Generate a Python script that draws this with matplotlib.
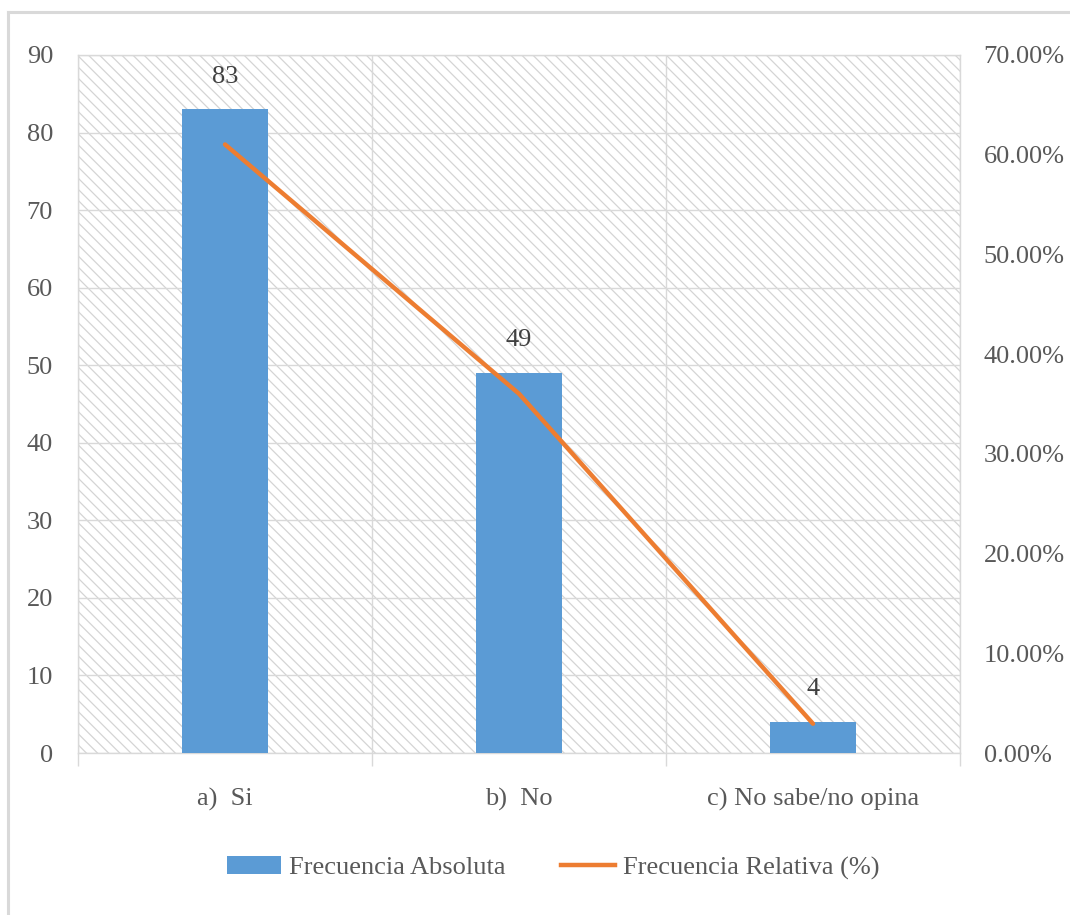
import matplotlib
matplotlib.use("Agg")
import matplotlib.pyplot as plt
from matplotlib.patches import Rectangle
from matplotlib.lines import Line2D
from matplotlib.ticker import FixedLocator, FuncFormatter

# Data
categories = ["a)  Si", "b)  No", "c) No sabe/no opina"]
frecuencia_absoluta = [83, 49, 4]
frecuencia_relativa = [61.03, 36.03, 2.94]  # percent
left_ticks = list(range(0, 100, 10))
right_ticks = [0, 10, 20, 30, 40, 50, 60, 70]

BAR_COLOR = "#5B9BD5"
LINE_COLOR = "#ED7D31"
GRID_COLOR = "#d9d9d9"
TEXT_COLOR = "#595959"
LABEL_COLOR = "#404040"

plt.rcParams["font.family"] = ["Liberation Serif", "DejaVu Serif"]
plt.rcParams["hatch.linewidth"] = 0.9
FS = 19

fig = plt.figure(figsize=(10.7, 9.15), dpi=100)
ax = fig.add_axes([0.0729, 0.177, 0.8243, 0.7629])

# Hatched plot-area background
bg = Rectangle((0, 0), 1, 1, transform=ax.transAxes, facecolor="white",
               edgecolor="#d4d4d4", hatch="\\\\\\", linewidth=0, zorder=0)
ax.add_patch(bg)

x = list(range(len(categories)))
bars = ax.bar(x, frecuencia_absoluta, width=0.29, color=BAR_COLOR, zorder=3)
for xi, v in zip(x, frecuencia_absoluta):
    ax.annotate(str(v), (xi, v), xytext=(0, 15.5), textcoords="offset points",
                ha="center", va="bottom", fontsize=FS, color=LABEL_COLOR, zorder=5)

ax.set_xlim(-0.5, len(categories) - 0.5)
ax.set_ylim(0, 90)
ax.set_yticks(left_ticks)
ax.set_xticks(x)
ax.set_xticklabels(categories)
ax.xaxis.set_minor_locator(FixedLocator([-0.5, 0.5, 1.5, 2.5]))
ax.tick_params(axis="x", which="major", length=0, pad=25, labelsize=FS, labelcolor=TEXT_COLOR)
ax.tick_params(axis="x", which="minor", length=9, color=GRID_COLOR, width=1)
ax.tick_params(axis="y", length=0, pad=18, labelsize=FS, labelcolor=TEXT_COLOR)

ax.set_axisbelow(True)
ax.grid(axis="y", color=GRID_COLOR, linewidth=1, zorder=1)
ax.grid(axis="x", which="minor", color=GRID_COLOR, linewidth=1, zorder=1)
for s in ax.spines.values():
    s.set_color(GRID_COLOR)
    s.set_linewidth(1)

# Secondary axis with relative frequency
ax2 = ax.twinx()
ax2.plot(x, frecuencia_relativa, color=LINE_COLOR, linewidth=3.2,
         solid_capstyle="round", zorder=4)
ax2.set_ylim(0, 70)
ax2.set_yticks(right_ticks)
ax2.yaxis.set_major_formatter(FuncFormatter(lambda v, p: f"{v:.2f}%"))
ax2.tick_params(axis="y", length=0, pad=17, labelsize=FS, labelcolor=TEXT_COLOR)
for s in ax2.spines.values():
    s.set_visible(False)

# Legend
handles = [Rectangle((0, 0), 1, 1, facecolor=BAR_COLOR, edgecolor="none"),
           Line2D([0], [0], color=LINE_COLOR, linewidth=3.2)]
leg = fig.legend(handles, ["Frecuencia Absoluta", "Frecuencia Relativa (%)"],
                 loc="center", bbox_to_anchor=(0.517, 0.0514), ncol=2,
                 frameon=False, fontsize=FS, handlelength=2.05,
                 handleheight=0.65, handletextpad=0.3, columnspacing=2.1)
for t in leg.get_texts():
    t.set_color(TEXT_COLOR)

# Chart-area border (top and left edges)
W, H = 1070, 915
fig.add_artist(Line2D([8 / W, 1.0], [1 - 12 / H, 1 - 12 / H],
                      transform=fig.transFigure, color=GRID_COLOR, linewidth=2.2))
fig.add_artist(Line2D([8 / W, 8 / W], [1 - 12 / H, 0.0],
                      transform=fig.transFigure, color=GRID_COLOR, linewidth=2.2))

fig.savefig("out.png", dpi=100, facecolor="white")
